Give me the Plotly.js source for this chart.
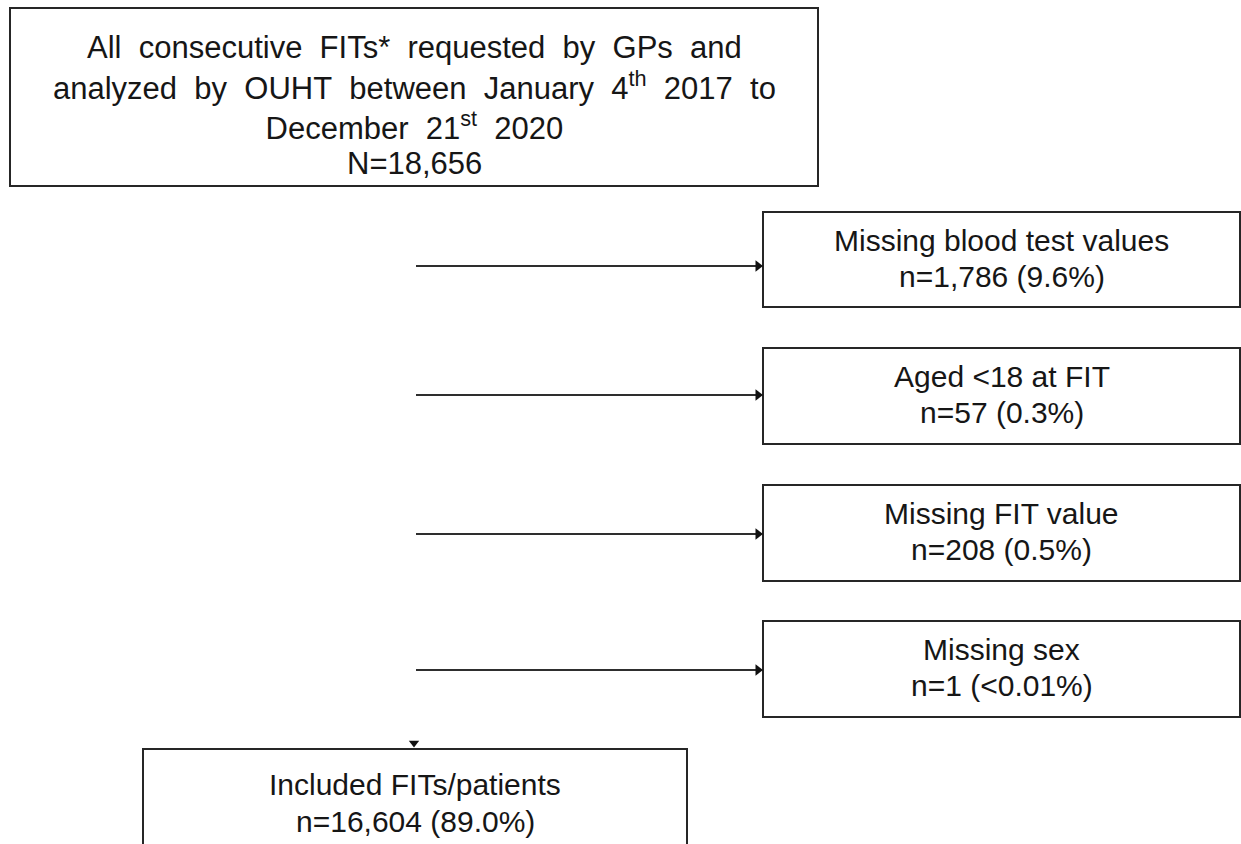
<!DOCTYPE html>
<html>
<head>
<meta charset="utf-8">
<script src="https://cdn.plot.ly/plotly-3.0.1.min.js"></script>
<style>html,body{margin:0;padding:0;background:#fff;}#chart{width:1241px;height:844px;}</style>
</head>
<body>
<div id="chart"></div>
<script>
// ---- data ----
const sourceLines = [
  "All consecutive FITs* requested by GPs and",
  "analyzed by OUHT between January 4<sup>th</sup> 2017 to",
  "December 21<sup>st</sup> 2020",
  "N=18,656"
];
const exclusionLabels = ["Missing blood test values", "Aged &lt;18 at FIT", "Missing FIT value", "Missing sex"];
const exclusionCounts = ["1,786", "57", "208", "1"];
const exclusionPercents = ["9.6%", "0.3%", "0.5%", "&lt;0.01%"];
const includedLabel = "Included FITs/patients";
const includedCount = "16,604";
const includedPercent = "89.0%";

// ---- layout geometry ----
const W = 1241, H = 844;
const FONT = {family: "Liberation Sans, Arial, sans-serif", size: 30, color: "#161616"};
const TOPFONT = {family: "Liberation Sans, Arial, sans-serif", size: 31, color: "#161616"};
const LINE = {color: "#262626", width: 2};
const GAP = "\u00a0\u00a0";

const topBox = {x0: 10, x1: 818, y0: 8, y1: 186};
const exBoxX = [763, 1240];
const exBoxY = [[212, 307], [348, 444], [485, 581], [621, 717]];
const arrowY = [266, 395, 534, 670];
const arrowX0 = 416;
const incBox = {x0: 143, x1: 687, y0: 749, y1: 900};

const shapes = [];
const annotations = [];

function rect(x0, y0, x1, y1) {
  shapes.push({type: "rect", xref: "x", yref: "y", x0, y0, x1, y1, line: LINE, fillcolor: "#ffffff", layer: "below"});
}
function txt(x, y, t, f) {
  annotations.push({x, y, xref: "x", yref: "y", text: t, showarrow: false, xanchor: "center", yanchor: "middle", font: f || FONT});
}

// top box
rect(topBox.x0, topBox.y0, topBox.x1, topBox.y1);
const topCx = (topBox.x0 + topBox.x1) / 2;
const spaced = sourceLines.map(l => l.split(" ").join(GAP));
txt(topCx, 47, spaced[0], TOPFONT);
txt(topCx, 106, spaced[1] + "<br>" + spaced[2], TOPFONT);
txt(topCx, 163, spaced[3], TOPFONT);

// exclusion boxes
const exCx = (exBoxX[0] + exBoxX[1]) / 2;
exclusionLabels.forEach((lab, i) => {
  const [y0, y1] = exBoxY[i];
  rect(exBoxX[0], y0, exBoxX[1], y1);
  txt(exCx, y0 + 28, lab);
  txt(exCx, y0 + 64, "n=" + exclusionCounts[i] + " (" + exclusionPercents[i] + ")");
});

// included box
rect(incBox.x0, incBox.y0, incBox.x1, incBox.y1);
const incCx = (incBox.x0 + incBox.x1) / 2;
txt(incCx, incBox.y0 + 35, includedLabel);
txt(incCx, incBox.y0 + 72, "n=" + includedCount + " (" + includedPercent + ")");

// arrows as traces
const lineX = [], lineY = [];
arrowY.forEach(y => { lineX.push(arrowX0, exBoxX[0] - 6, null); lineY.push(y, y, null); });
const traces = [
  {x: lineX, y: lineY, type: "scatter", mode: "lines", line: {color: "#2e2e2e", width: 2}, hoverinfo: "skip"},
  {x: arrowY.map(() => exBoxX[0] - 5), y: arrowY, type: "scatter", mode: "markers",
   marker: {symbol: "triangle-right", size: 10, color: "#111"}, hoverinfo: "skip"},
  {x: [414], y: [incBox.y0 - 6], type: "scatter", mode: "markers",
   marker: {symbol: "triangle-down", size: 9, color: "#111"}, hoverinfo: "skip"}
];

const layout = {
  width: W, height: H,
  margin: {l: 0, r: 0, t: 0, b: 0},
  paper_bgcolor: "#ffffff", plot_bgcolor: "#ffffff",
  showlegend: false,
  xaxis: {range: [0, W], visible: false, fixedrange: true},
  yaxis: {range: [H, 0], visible: false, fixedrange: true},
  shapes, annotations
};

Plotly.newPlot("chart", traces, layout, {displayModeBar: false, staticPlot: true});
</script>
</body>
</html>
